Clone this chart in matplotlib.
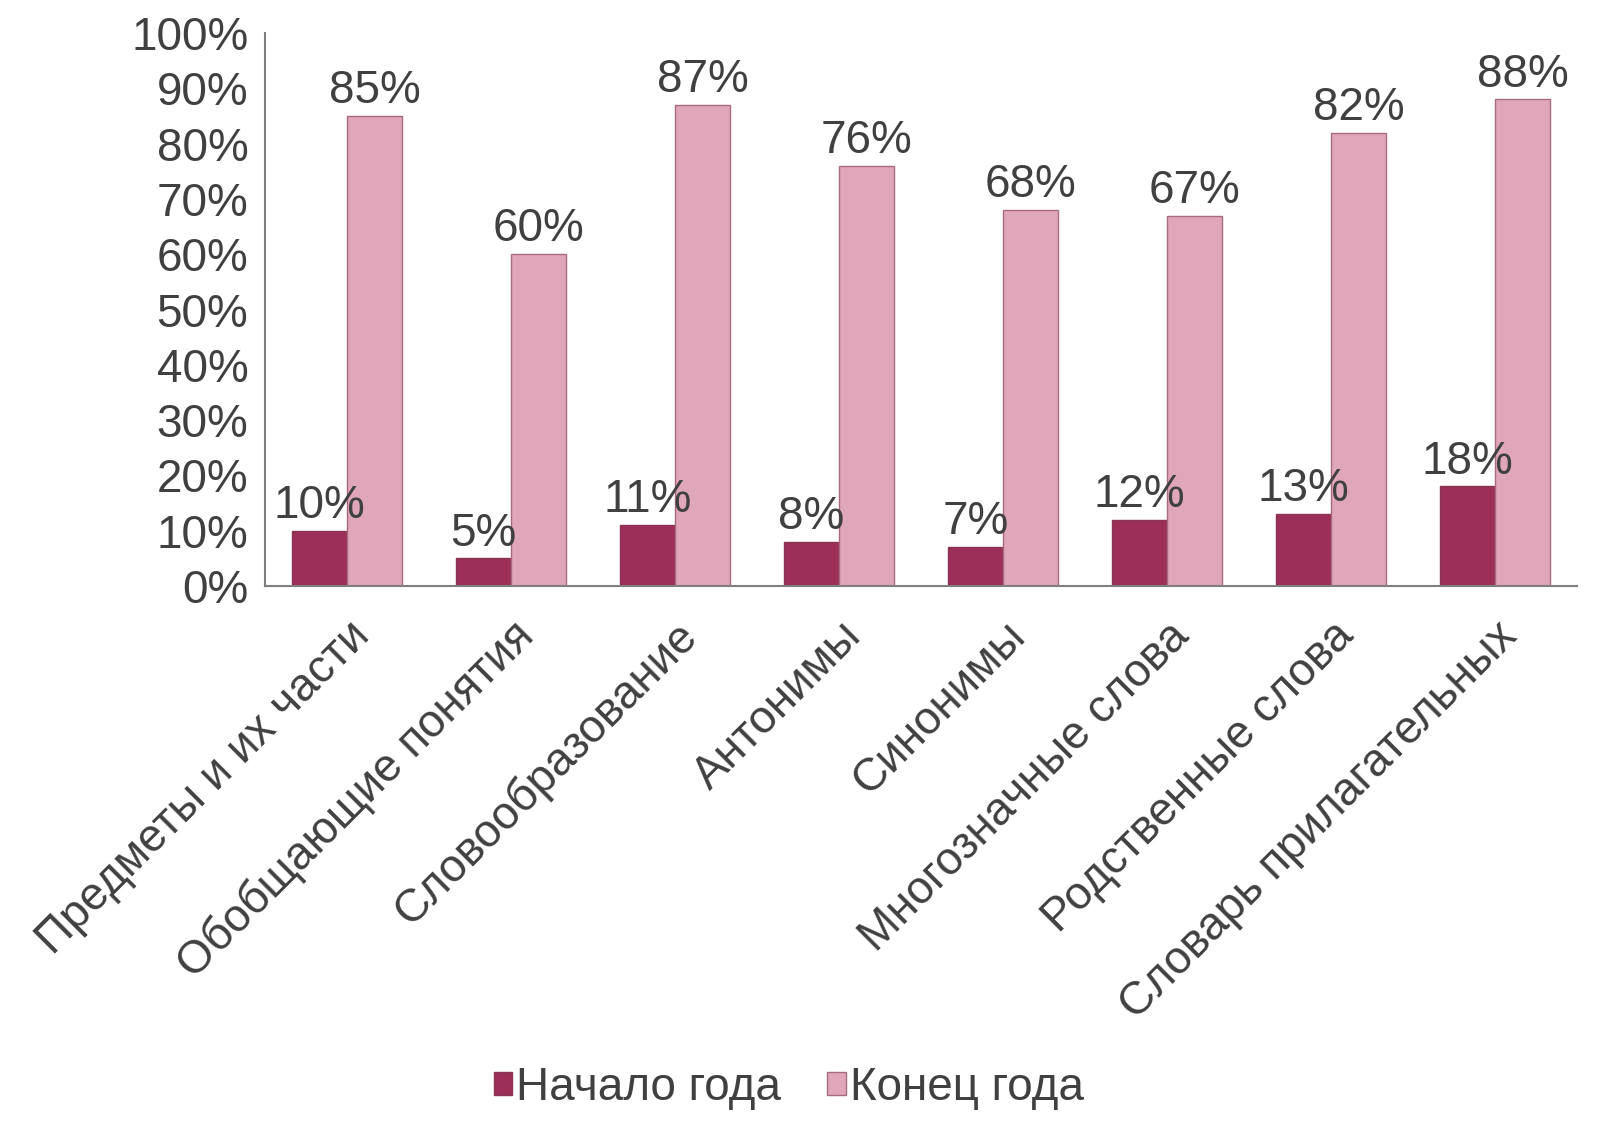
import matplotlib
matplotlib.use("Agg")
import matplotlib.pyplot as plt
import numpy as np

categories = ["Предметы и их части", "Обобщающие понятия", "Словообразование",
              "Антонимы", "Синонимы", "Многозначные слова", "Родственные слова",
              "Словарь прилагательных"]
start_year = [10, 5, 11, 8, 7, 12, 13, 18]
end_year = [85, 60, 87, 76, 68, 67, 82, 88]
series_names = ["Начало года", "Конец года"]
yticks = [0, 10, 20, 30, 40, 50, 60, 70, 80, 90, 100]

plt.rcParams['font.family'] = ['Liberation Sans', 'DejaVu Sans']
txt = '#404040'
c_dark = '#9c2f57'
c_light = '#e0a6b9'

fig = plt.figure(figsize=(16.1, 11.4), dpi=100)
ax = fig.add_axes([0.1646, 0.486, 0.815, 0.485])

x = np.arange(len(categories))
w = 0.335
b1 = ax.bar(x - w/2, start_year, w, color=c_dark, edgecolor='#8a3555', linewidth=1, label=series_names[0])
b2 = ax.bar(x + w/2, end_year, w, color=c_light, edgecolor='#a86a80', linewidth=1, label=series_names[1])

fs = 33
for bars, vals in ((b1, start_year), (b2, end_year)):
    for r, v in zip(bars, vals):
        ax.annotate(f"{v}%", (r.get_x() + r.get_width()/2, v), xytext=(0, 2),
                    textcoords='offset points', ha='center', va='bottom',
                    fontsize=fs, color=txt)

ax.set_xlim(-0.5, len(categories) - 0.5)
ax.set_ylim(0, 100)
ax.set_yticks(yticks)
ax.set_yticklabels([f"{t}%" for t in yticks], fontsize=fs, color=txt)
ax.set_xticks(x)
ax.set_xticklabels(categories, rotation=45, ha='right', rotation_mode='anchor',
                   fontsize=fs, color=txt)
ax.tick_params(axis='both', length=0)
ax.tick_params(axis='y', pad=12)
ax.tick_params(axis='x', pad=20)
for s in ('top', 'right'):
    ax.spines[s].set_visible(False)
for s in ('left', 'bottom'):
    ax.spines[s].set_color('#7f7f7f')
    ax.spines[s].set_linewidth(1.5)

fig.legend(handles=[b1, b2], labels=series_names, loc='center', bbox_to_anchor=(0.49, 0.046),
           ncol=2, frameon=False, fontsize=fs, handlelength=0.4, handleheight=0.4,
           handletextpad=0.1, columnspacing=1.0, labelcolor=txt)

fig.savefig("out.png", dpi=100, facecolor='white')
